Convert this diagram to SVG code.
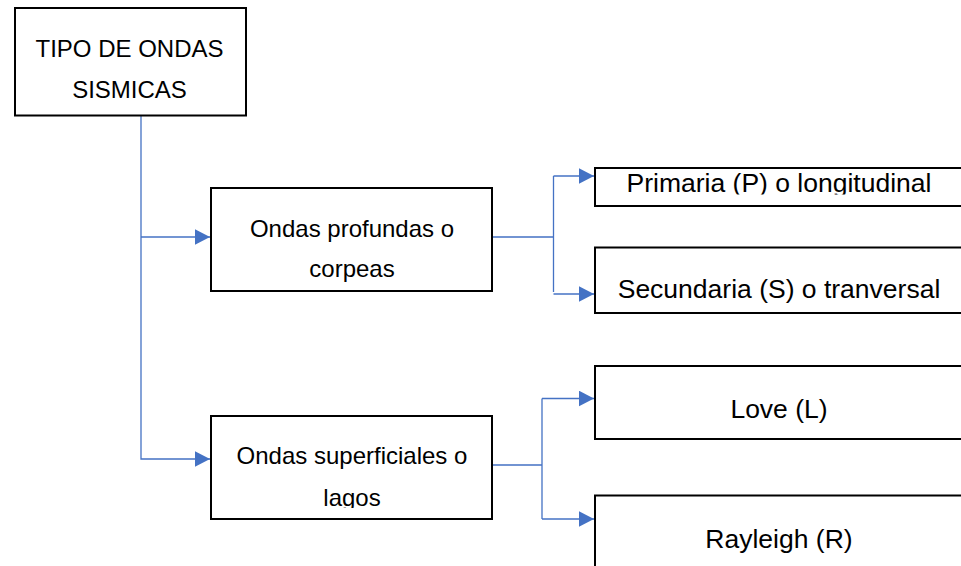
<svg xmlns="http://www.w3.org/2000/svg" width="961" height="566" viewBox="0 0 961 566">
<style>
.box{fill:#fff;stroke:#000;stroke-width:2}
.t{font-family:"Liberation Sans",Arial,sans-serif;fill:#000;text-anchor:middle}
.s{font-size:24px}
.l{font-size:26.5px}
.c{fill:none;stroke:#4472C4;stroke-width:1.3}
</style>
<defs>
<marker id="arr" markerUnits="userSpaceOnUse" markerWidth="16" markerHeight="16" viewBox="0 0 16 16" refX="15" refY="8" orient="auto">
<path d="M0,0.2 L15,8 L0,15.8 Z" fill="#4472C4"/>
</marker>
<clipPath id="clipP"><rect x="596" y="169" width="370" height="25.5"/></clipPath>
<clipPath id="clipL"><rect x="212" y="417" width="279" height="91"/></clipPath>
</defs>
<rect width="961" height="566" fill="#fff"/>
<g id="connectors">
<path class="c" d="M141,116 V459 H210" marker-end="url(#arr)"/>
<path class="c" d="M141,237 H210" marker-end="url(#arr)"/>
<path class="c" d="M493,237 H553.5 M553.5,176 V292"/>
<path class="c" d="M553.5,176 H594" marker-end="url(#arr)"/>
<path class="c" d="M553.5,294 H594" marker-end="url(#arr)"/>
<path class="c" d="M493,465 H542 M542,398.5 V519"/>
<path class="c" d="M542,398.5 H594" marker-end="url(#arr)"/>
<path class="c" d="M542,519 H594" marker-end="url(#arr)"/>
</g>
<g id="tipo">
<rect class="box" x="15" y="8" width="231" height="107.5"/>
<text class="t s" x="129.5" y="57">TIPO DE ONDAS</text>
<text class="t s" x="129.5" y="98">SISMICAS</text>
</g>
<g id="profundas">
<rect class="box" x="211" y="188" width="281" height="103"/>
<text class="t s" x="352" y="237">Ondas profundas o</text>
<text class="t s" x="352" y="277">corpeas</text>
</g>
<g id="superficiales">
<rect class="box" x="211" y="416" width="281" height="103"/>
<g clip-path="url(#clipL)">
<text class="t s" x="352" y="464">Ondas superficiales o</text>
<text class="t s" x="352" y="506">lagos</text>
</g>
</g>
<g id="primaria">
<rect class="box" x="595" y="168" width="380" height="38"/>
<text class="t l" x="779" y="192" clip-path="url(#clipP)">Primaria (P) o longitudinal</text>
</g>
<g id="secundaria">
<rect class="box" x="595" y="247.5" width="380" height="65.5"/>
<text class="t l" x="779" y="298">Secundaria (S) o tranversal</text>
</g>
<g id="love">
<rect class="box" x="595" y="366" width="380" height="73"/>
<text class="t l" x="779" y="418">Love (L)</text>
</g>
<g id="rayleigh">
<rect class="box" x="595" y="495.5" width="380" height="90"/>
<text class="t l" x="779" y="548">Rayleigh (R)</text>
</g>
</svg>
